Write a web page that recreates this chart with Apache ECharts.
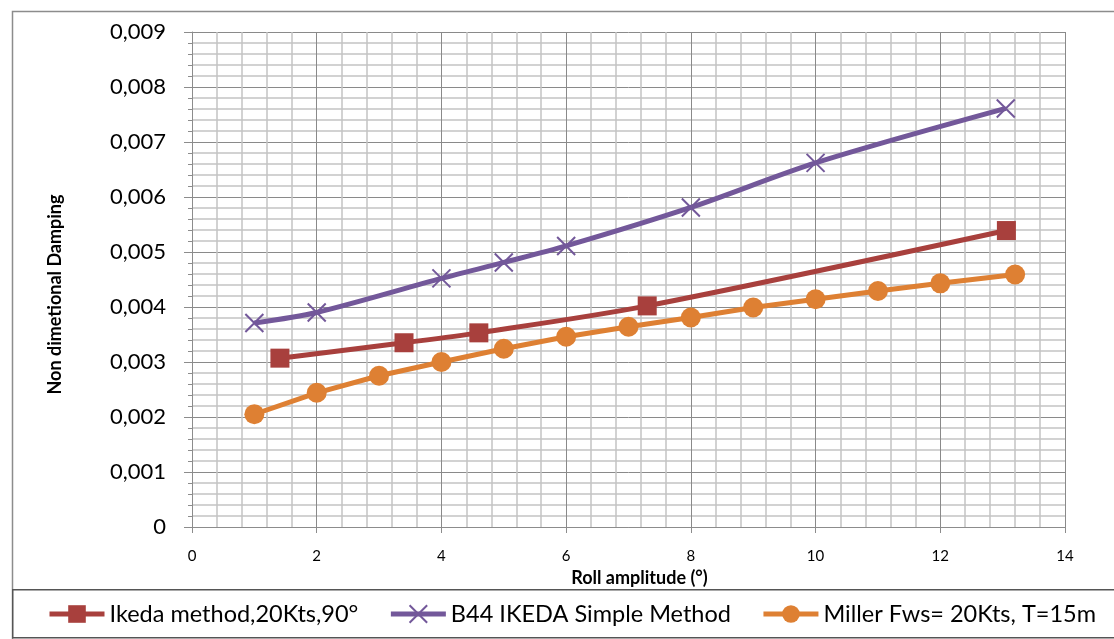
<!DOCTYPE html>
<html>
<head>
<meta charset="utf-8">
<script src="https://cdn.jsdelivr.net/npm/echarts@6/dist/echarts.min.js"></script>
<style>
html,body{margin:0;padding:0;background:#fff;}
#chart{width:1114px;height:639px;}
</style>
</head>
<body>
<div id="chart"></div>
<script>
// ---- data ----
const seriesNames = ['Ikeda method,20Kts,90°', 'B44 IKEDA Simple Method', 'Miller Fws= 20Kts, T=15m'];
const ikedaX = [1.41, 3.4, 4.6, 7.3, 13.06];
const ikedaY = [0.00307, 0.00335, 0.00353, 0.00402, 0.00539];
const b44X = [1, 2, 4, 5, 6, 8, 10, 13.05];
const b44Y = [0.00371, 0.0039, 0.00452, 0.00481, 0.00511, 0.00581, 0.00662, 0.00761];
const millerX = [1, 2, 3, 4, 5, 6, 7, 8, 9, 10, 11, 12, 13.2];
const millerY = [0.00205, 0.00244, 0.00275, 0.003, 0.00324, 0.00346, 0.00364, 0.00381, 0.00399, 0.00414, 0.00429, 0.00443, 0.00459];
const xAxisTitle = 'Roll amplitude (°)';
const yAxisTitle = 'Non dimetional Damping';

const pairs = (xs, ys) => xs.map((x, i) => [x, ys[i]]);
const FONT = 'Lato, "Open Sans", sans-serif';
const RED = '#A8403D', PURPLE = '#73589A', ORANGE = '#DE8033';

const chart = echarts.init(document.getElementById('chart'), null, {renderer: 'canvas'});
chart.setOption({
  animation: false,
  backgroundColor: '#fff',
  grid: {left: 192, right: 49, top: 32, bottom: 112, containLabel: false},
  graphic: [
    {type: 'rect', left: 10, top: 9, shape: {width: 1130, height: 660}, style: {fill: 'none', stroke: '#8c8c8c', lineWidth: 1.5}, silent: true, z: -1},
    {type: 'rect', left: 12, top: 589, shape: {width: 1130, height: 48}, style: {fill: '#fff', stroke: '#555', lineWidth: 1.5}, silent: true, z: -1}
  ],
  xAxis: {
    type: 'value', min: 0, max: 14, interval: 2,
    name: xAxisTitle, nameLocation: 'middle', nameGap: 41,
    nameTextStyle: {fontFamily: FONT, fontSize: 18, fontWeight: 'bold', color: '#000', padding: [0, 0, 0, 22]},
    axisLine: {show: true, lineStyle: {color: '#8c8c8c', width: 1}},
    axisTick: {show: true, length: 6, lineStyle: {color: '#8c8c8c'}},
    minorTick: {show: false, splitNumber: 5},
    axisLabel: {fontFamily: FONT, fontSize: 15, color: '#000', margin: 22},
    splitLine: {show: true, lineStyle: {color: '#8a8a8a', width: 1}},
    minorSplitLine: {show: true, lineStyle: {color: '#c4c4c4', width: 1.5}}
  },
  yAxis: {
    type: 'value', min: 0, max: 0.009, interval: 0.001,
    name: yAxisTitle, nameLocation: 'middle', nameGap: 128, nameRotate: 90,
    nameTextStyle: {fontFamily: FONT, fontSize: 18, fontWeight: 'bold', color: '#000', padding: [0, 30, 0, 0]},
    axisLine: {show: true, lineStyle: {color: '#8c8c8c', width: 1}},
    axisTick: {show: true, length: 8, lineStyle: {color: '#8c8c8c'}},
    minorTick: {show: true, splitNumber: 5, length: 4, lineStyle: {color: '#8c8c8c'}},
    axisLabel: {
      fontFamily: FONT, fontSize: 22, color: '#000', margin: 26,
      formatter: v => (Math.abs(v) < 1e-12 ? '0' : v.toFixed(3).replace('.', ','))
    },
    splitLine: {show: true, lineStyle: {color: '#8a8a8a', width: 1}},
    minorSplitLine: {show: true, lineStyle: {color: '#c4c4c4', width: 1.5}}
  },
  legend: {
    left: 42, top: 597, width: 1070,
    itemWidth: 55, itemHeight: 22, itemGap: 30,
    lineStyle: {width: 5},
    textStyle: {fontFamily: FONT, fontSize: 23.5, color: '#000'},
    data: seriesNames
  },
  series: [
    {
      name: seriesNames[0], type: 'line', data: pairs(ikedaX, ikedaY),
      smooth: 0.3, symbol: 'rect', symbolSize: 19,
      lineStyle: {color: RED, width: 5}, itemStyle: {color: RED}, z: 3
    },
    {
      name: seriesNames[1], type: 'line', data: pairs(b44X, b44Y),
      smooth: 0.3, symbol: 'path://M0,0L10,10M10,0L0,10', symbolSize: 18,
      lineStyle: {color: PURPLE, width: 5},
      itemStyle: {color: 'none', borderColor: PURPLE, borderWidth: 2}, z: 2
    },
    {
      name: seriesNames[2], type: 'line', data: pairs(millerX, millerY),
      smooth: false, symbol: 'circle', symbolSize: 20,
      lineStyle: {color: ORANGE, width: 5}, itemStyle: {color: ORANGE}, z: 4
    }
  ]
});
</script>
</body>
</html>
